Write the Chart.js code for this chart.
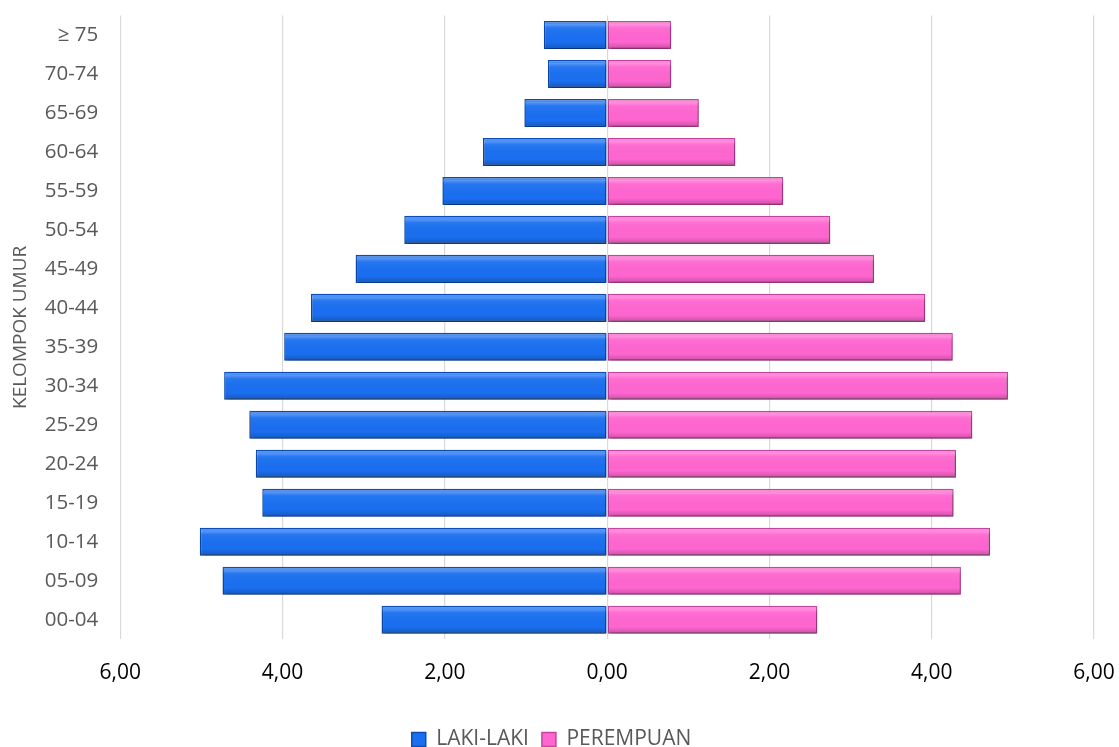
<!DOCTYPE html>
<html>
<head>
<meta charset="utf-8">
<script src="https://cdn.jsdelivr.net/npm/chart.js@4/dist/chart.umd.min.js"></script>
<style>
html,body{margin:0;padding:0;background:#fff;}
#wrap{width:1119px;height:747px;position:relative;}
</style>
</head>
<body>
<div id="wrap"><canvas id="c"></canvas></div>
<script>
const categories = ["≥ 75","70-74","65-69","60-64","55-59","50-54","45-49","40-44","35-39","30-34","25-29","20-24","15-19","10-14","05-09","00-04"];
const lakiLaki = [0.78,0.73,1.02,1.53,2.03,2.50,3.10,3.65,3.98,4.72,4.41,4.33,4.25,5.02,4.74,2.78];
const perempuan = [0.79,0.79,1.13,1.58,2.17,2.75,3.29,3.92,4.26,4.94,4.50,4.30,4.27,4.72,4.36,2.59];
const xTicks = [-6,-4,-2,0,2,4,6];

const fmt = v => Math.abs(v).toFixed(2).replace('.', ',');

const bevel = {
  id: 'bevel',
  beforeDatasetsDraw(chart) {
    const c = chart.ctx;
    c.save();
    c.shadowColor = 'rgba(0,0,0,0.35)';
    c.shadowOffsetY = 3;
    c.shadowOffsetX = 1;
    c.shadowBlur = 4;
  },
  afterDatasetsDraw(chart) {
    const c = chart.ctx;
    c.restore();
    c.save();
    chart.data.datasets.forEach((ds, i) => {
      chart.getDatasetMeta(i).data.forEach(bar => {
        const p = bar.getProps(['x','y','base','height'], true);
        const l = Math.min(p.x, p.base), r = Math.max(p.x, p.base);
        const t = p.y - p.height / 2, h = p.height;
        const g = c.createLinearGradient(0, t, 0, t + h);
        g.addColorStop(0, 'rgba(255,255,255,0.0)');
        g.addColorStop(0.12, 'rgba(255,255,255,0.28)');
        g.addColorStop(0.25, 'rgba(255,255,255,0.05)');
        g.addColorStop(0.75, 'rgba(0,0,0,0.0)');
        g.addColorStop(1, 'rgba(0,0,0,0.22)');
        c.fillStyle = g;
        c.fillRect(l + 1, t + 1, r - l - 2, h - 2);
      });
    });
    c.restore();
  }
};

new Chart(document.getElementById('c'), {
  type: 'bar',
  data: {
    labels: categories,
    datasets: [
      {label: 'LAKI-LAKI', data: lakiLaki.map(v => -v), backgroundColor: '#1a6ff0', borderColor: '#0b4cb5', borderWidth: 1.5, borderSkipped: false},
      {label: 'PEREMPUAN', data: perempuan, backgroundColor: '#ff66d0', borderColor: '#c445a0', borderWidth: 1.5, borderSkipped: false}
    ]
  },
  options: {
    indexAxis: 'y',
    responsive: true,
    maintainAspectRatio: false,
    animation: false,
    layout: {padding: {top: 15.5, right: 25, bottom: -13, left: 9}},
    datasets: {bar: {barPercentage: 0.72, categoryPercentage: 1.0}},
    scales: {
      x: {
        stacked: true,
        min: -6, max: 6,
        afterBuildTicks: axis => { axis.ticks = xTicks.map(v => ({value: v})); },
        afterFit: axis => { axis.paddingLeft = 0; axis.paddingRight = 0; },
        ticks: {callback: v => fmt(v), color: '#000', font: {family: 'Open Sans', size: 21}, padding: 21},
        grid: {color: '#d9d9d9', lineWidth: 1.2, drawTicks: false},
        border: {display: false}
      },
      y: {
        stacked: true,
        afterFit: axis => { axis.paddingTop = 0; axis.paddingBottom = 0; },
        ticks: {color: '#595959', font: {family: 'Open Sans', size: 20.5}, padding: 14},
        grid: {display: false},
        border: {display: false},
        title: {display: true, text: 'KELOMPOK UMUR', color: '#595959', font: {family: 'Open Sans', size: 19}, padding: {top: 0, bottom: -1}}
      }
    },
    plugins: {
      legend: {
        position: 'bottom',
        title: {display: true, text: ' ', padding: 0, font: {size: 8}},
        labels: {color: '#595959', font: {family: 'Open Sans', size: 21}, boxWidth: 14, boxHeight: 14, padding: 13},
        onClick: null
      },
      tooltip: {enabled: false}
    }
  },
  plugins: [bevel]
});
</script>
</body>
</html>
